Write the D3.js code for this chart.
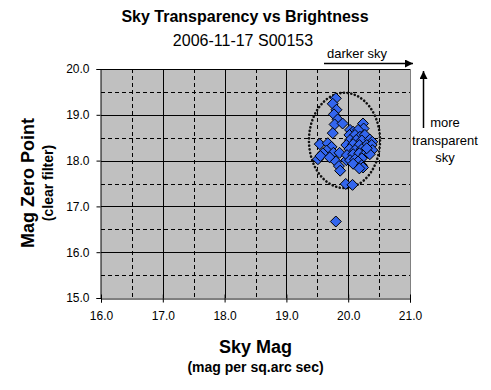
<!DOCTYPE html>
<html><head><meta charset="utf-8">
<script src="https://cdn.jsdelivr.net/npm/d3@7"></script>
<style>body{margin:0;background:#fff}svg{display:block;font-family:Arial,"Liberation Sans",sans-serif}</style>
</head><body>
<script>
const titleText = "Sky Transparency vs Brightness";
const subtitleText = "2006-11-17 S00153";
const xTitle = "Sky Mag", xSubTitle = "(mag per sq.arc sec)";
const yTitle = "Mag Zero Point", ySubTitle = "(clear filter)";
const xTicks = [16, 17, 18, 19, 20, 21];
const yTicks = [15, 16, 17, 18, 19, 20];
const skyMag = [19.80,19.75,19.81,19.77,19.83,19.78,19.91,19.75,
  19.54,19.67,19.73,19.65,19.59,19.76,19.51,19.55,19.70,19.80,19.86,19.85,19.87,19.97,
  20.24,20.25,20.03,20.08,20.16,20.02,20.11,20.19,20.27,20.03,20.13,20.22,20.35,20.39,
  19.97,20.08,20.18,20.30,20.38,20.02,20.11,20.22,20.30,20.39,19.98,20.08,20.18,20.27,20.35,
  20.03,20.11,20.22,20.16,20.08,20.22,20.24,20.18,20.30,
  19.96,20.07,19.80];
const zeroPoint = [19.36,19.24,19.11,19.01,18.90,18.79,18.81,18.60,
  18.36,18.38,18.30,18.22,18.16,18.17,18.03,18.10,18.07,17.98,18.17,17.88,17.78,18.01,
  18.81,18.70,18.67,18.63,18.67,18.56,18.56,18.52,18.56,18.45,18.45,18.44,18.46,18.41,
  18.34,18.36,18.34,18.34,18.34,18.25,18.23,18.25,18.22,18.23,18.12,18.14,18.16,18.14,18.14,
  18.01,18.03,18.05,17.98,17.93,17.90,17.85,17.83,18.27,
  17.49,17.47,16.67];
const ellipse = {cx: 19.94, cy: 18.44, rx: 0.575, ry: 1.04};

const W = 491, H = 390;
const plot = {l: 101, r: 410, t: 69, b: 298};
const svg = d3.select("body").append("svg").attr("width", W).attr("height", H);
svg.append("rect").attr("width", W).attr("height", H).attr("fill", "#fff");

const x = d3.scaleLinear().domain([16, 21]).range([plot.l, plot.r]);
const y = d3.scaleLinear().domain([15, 20]).range([plot.b, plot.t]);

svg.append("rect").attr("x", plot.l).attr("y", plot.t)
  .attr("width", plot.r - plot.l).attr("height", plot.b - plot.t).attr("fill", "#c0c0c0");

const g = svg.append("g");
const xMinor = d3.range(16.5, 21, 1), yMinor = d3.range(15.5, 20, 1);
g.selectAll(".vxm").data(xMinor).join("line")
  .attr("x1", d => Math.round(x(d)) + 0.5).attr("x2", d => Math.round(x(d)) + 0.5)
  .attr("y1", plot.t).attr("y2", plot.b).attr("stroke", "#000").attr("stroke-dasharray", "4,3");
g.selectAll(".hym").data(yMinor).join("line")
  .attr("y1", d => Math.round(y(d)) + 0.5).attr("y2", d => Math.round(y(d)) + 0.5)
  .attr("x1", plot.l).attr("x2", plot.r).attr("stroke", "#000").attr("stroke-dasharray", "4,3");
g.selectAll(".vx").data(xTicks.slice(1, -1)).join("line")
  .attr("x1", d => Math.round(x(d)) + 0.5).attr("x2", d => Math.round(x(d)) + 0.5)
  .attr("y1", plot.t).attr("y2", plot.b).attr("stroke", "#000");
g.selectAll(".hy").data(yTicks.slice(1)).join("line")
  .attr("y1", d => Math.round(y(d)) + 0.5).attr("y2", d => Math.round(y(d)) + 0.5)
  .attr("x1", plot.l).attr("x2", plot.r).attr("stroke", "#000");
svg.append("line").attr("x1", plot.r + 0.5).attr("x2", plot.r + 0.5)
  .attr("y1", plot.t).attr("y2", plot.b + 0.5).attr("stroke", "#808080");

const fmt = d3.format(".1f");
const xAxis = svg.append("g").attr("transform", `translate(0,${plot.b + 0.5})`)
  .call(d3.axisBottom(x).tickValues(xTicks).tickFormat(fmt).tickSize(4).tickPadding(9));
const yAxis = svg.append("g").attr("transform", `translate(${plot.l - 0.5},0)`)
  .call(d3.axisLeft(y).tickValues(yTicks).tickFormat(fmt).tickSize(4).tickPadding(7));
[xAxis, yAxis].forEach(a => {
  a.select(".domain").attr("stroke", "#000");
  a.selectAll(".tick line").attr("stroke", "#000");
  a.selectAll("text").attr("font-size", 12).attr("fill", "#000").attr("font-family", "Arial, 'Liberation Sans', sans-serif");
});
xAxis.selectAll(".tick line").attr("y1", -4).attr("y2", 4);

svg.append("ellipse")
  .attr("cx", x(ellipse.cx)).attr("cy", y(ellipse.cy))
  .attr("rx", x(ellipse.cx + ellipse.rx) - x(ellipse.cx))
  .attr("ry", y(ellipse.cy) - y(ellipse.cy + ellipse.ry))
  .attr("fill", "none").attr("stroke", "#111").attr("stroke-width", 2.6)
  .attr("stroke-linecap", "round").attr("stroke-dasharray", "0.1,3.6");

const pts = skyMag.map((d, i) => [d, zeroPoint[i]]);
svg.append("g").selectAll("path").data(pts).join("path")
  .attr("transform", d => `translate(${x(d[0])},${y(d[1])})`)
  .attr("d", "M0,-5.5L5.5,0L0,5.5L-5.5,0Z")
  .attr("fill", "#3366ee").attr("stroke", "#000").attr("stroke-width", 1);

svg.append("text").attr("x", 245).attr("y", 22).attr("text-anchor", "middle")
  .attr("font-size", 16).attr("font-weight", "bold").text(titleText);
svg.append("text").attr("x", 243).attr("y", 46).attr("text-anchor", "middle")
  .attr("font-size", 16).text(subtitleText);
svg.append("text").attr("x", (plot.l + plot.r) / 2).attr("y", 353).attr("text-anchor", "middle")
  .attr("font-size", 18).attr("font-weight", "bold").text(xTitle);
svg.append("text").attr("x", (plot.l + plot.r) / 2).attr("y", 372).attr("text-anchor", "middle")
  .attr("font-size", 14).attr("font-weight", "bold").text(xSubTitle);
svg.append("text").attr("transform", "translate(34,183) rotate(-90)").attr("text-anchor", "middle")
  .attr("font-size", 18).attr("font-weight", "bold").text(yTitle);
svg.append("text").attr("transform", "translate(53,183) rotate(-90)").attr("text-anchor", "middle")
  .attr("font-size", 14).attr("font-weight", "bold").text(ySubTitle);

svg.append("defs").append("marker").attr("id", "ah").attr("viewBox", "0 0 10 10")
  .attr("refX", 10).attr("refY", 5).attr("markerWidth", 10).attr("markerHeight", 8)
  .attr("markerUnits", "userSpaceOnUse").attr("orient", "auto")
  .append("path").attr("d", "M0,0L10,5L0,10Z").attr("fill", "#000");
svg.append("line").attr("x1", 324).attr("x2", 413).attr("y1", 63.5).attr("y2", 63.5)
  .attr("stroke", "#000").attr("stroke-width", 1.5).attr("marker-end", "url(#ah)");
svg.append("line").attr("x1", 423.5).attr("x2", 423.5).attr("y1", 128).attr("y2", 71)
  .attr("stroke", "#000").attr("stroke-width", 1.5).attr("marker-end", "url(#ah)");
svg.append("text").attr("x", 327).attr("y", 58).attr("font-size", 13).text("darker sky");
const ann = ["more", "transparent", "sky"];
svg.append("g").selectAll("text").data(ann).join("text")
  .attr("x", 445).attr("y", (d, i) => 127 + i * 17.5).attr("text-anchor", "middle")
  .attr("font-size", 13).text(d => d);
</script>
</body></html>
